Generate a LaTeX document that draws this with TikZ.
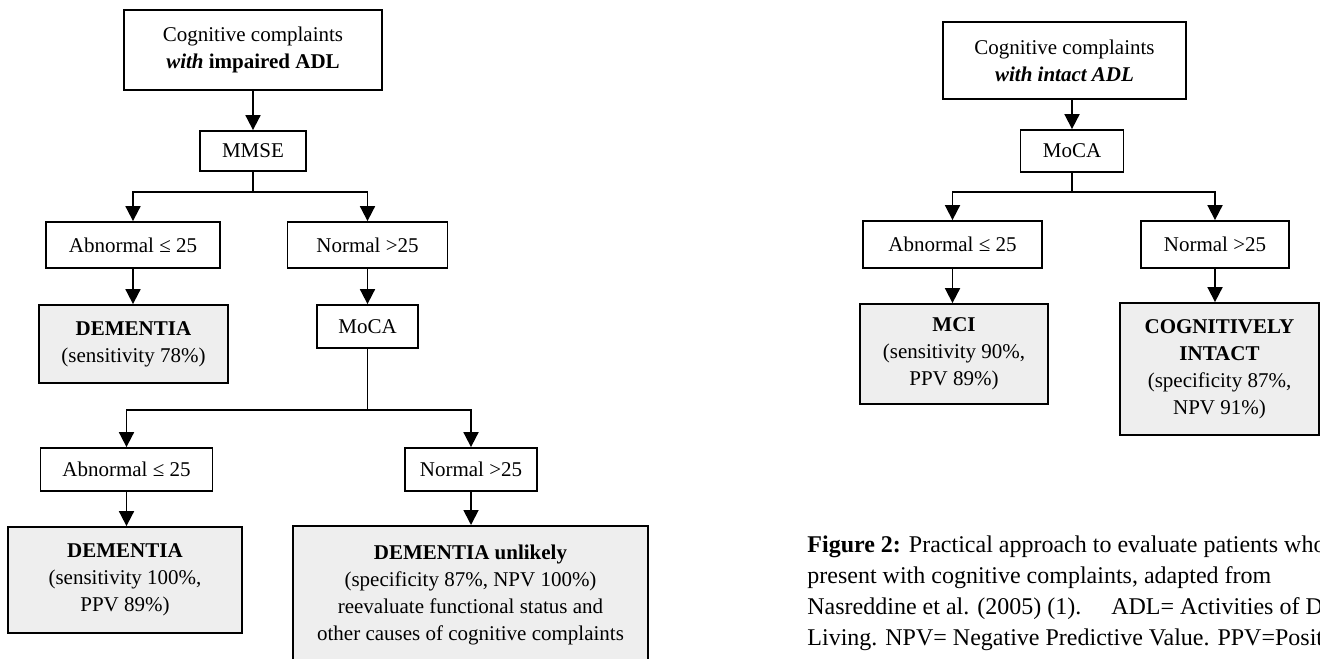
\documentclass[tikz,border=0pt]{standalone}
\usepackage{fontspec}
\setmainfont{Liberation Serif}
\usetikzlibrary{arrows.meta}

\begin{document}
\begin{tikzpicture}[x=0.5pt, y=-0.5pt,
    box/.style={draw, line width=0.9pt, align=center, inner sep=0pt, font=\fontsize{10.5}{13.5}\selectfont},
    res/.style={box, fill=gray!13},
    lnk/.style={line width=0.9pt},
    arr/.style={line width=0.9pt, -{Triangle[width=7.5pt,length=7.5pt]}}]

    \useasboundingbox (0,0) rectangle (1320,658);

    % impaired ADL tree
    \node (cplA) at (253,50) [box, minimum width=129pt, minimum height=40pt] {Cognitive complaints\\\textbf{\textit{with}} \textbf{impaired ADL}};
    \node (mmse) at (253,151) [box, minimum width=53pt, minimum height=20pt] {MMSE};
    \node (abnA) at (133,245) [box, minimum width=87pt, minimum height=23pt] {Abnormal ≤ 25};
    \node (normA) at (367.5,245) [box, minimum width=80pt, minimum height=23pt] {Normal >25};
    \node (demA) at (133.5,344) [res, minimum width=94.5pt, minimum height=39pt] {\textbf{DEMENTIA}\\(sensitivity 78\%)};
    \node (mocaA) at (367.5,326.5) [box, minimum width=50.5pt, minimum height=21.5pt] {MoCA};
    \node (abnB) at (126.5,469.5) [box, minimum width=86pt, minimum height=21.5pt] {Abnormal ≤ 25};
    \node (normB) at (471,469.5) [box, minimum width=66pt, minimum height=21.5pt] {Normal >25};
    \node (demB) at (125,580) [res, minimum width=117pt, minimum height=53pt] {\textbf{DEMENTIA}\\(sensitivity 100\%,\\PPV 89\%)};
    \node (unlB) at (470.5,525) [res, anchor=north, minimum width=177.5pt, inner ysep=9.7pt] {\textbf{DEMENTIA unlikely}\\(specificity 87\%, NPV 100\%)\\reevaluate functional status and\\other causes of cognitive complaints};

    \coordinate (jA) at (253,192);
    \coordinate (jB) at (367.5,410);

    \draw [arr] (cplA) -- (mmse);
    \draw [lnk] (mmse) -- (jA);
    \draw [arr] (jA) -| (abnA);
    \draw [arr] (jA) -| (normA);
    \draw [arr] (abnA) -- (abnA |- demA.north);
    \draw [arr] (normA) -- (mocaA);
    \draw [lnk] (mocaA) -- (jB);
    \draw [arr] (jB) -| (abnB);
    \draw [arr] (jB) -| (normB);
    \draw [arr] (abnB) -- (abnB |- demB.north);
    \draw [arr] (normB) -- (normB |- unlB.north);

    % intact ADL tree
    \node (cplB) at (1064.5,60.5) [box, minimum width=121.5pt, minimum height=38.5pt] {Cognitive complaints\\\textbf{\textit{with intact ADL}}};
    \node (mocaB) at (1072,151) [box, minimum width=51.5pt, minimum height=21pt] {MoCA};
    \node (abnC) at (952.5,244.5) [box, minimum width=89.5pt, minimum height=23.5pt] {Abnormal ≤ 25};
    \node (normC) at (1215,244.5) [box, minimum width=74pt, minimum height=23.5pt] {Normal >25};
    \node (mci) at (954,354) [res, minimum width=94pt, minimum height=50pt] {\textbf{MCI}\\(sensitivity 90\%,\\PPV 89\%)};
    \node (cog) at (1219.5,369) [res, minimum width=99.5pt, minimum height=66pt] {\textbf{COGNITIVELY}\\\textbf{INTACT}\\(specificity 87\%,\\NPV 91\%)};

    \coordinate (jC) at (1072,192);

    \draw [arr] (mocaB |- cplB.south) -- (mocaB);
    \draw [lnk] (mocaB) -- (jC);
    \draw [arr] (jC) -| (abnC);
    \draw [arr] (jC) -| (normC);
    \draw [arr] (abnC) -- (abnC |- mci.north);
    \draw [arr] (normC) -- (normC |- cog.north);

    % caption
    \node (cap) at (807,535) [anchor=north west, inner sep=0pt, align=left, font=\fontsize{12}{15.5}\selectfont] {\textbf{Figure 2:} Practical approach to evaluate patients who\\present with cognitive complaints, adapted from\\Nasreddine et al. (2005) (1).\hspace{11pt} ADL= Activities of D\\Living. NPV= Negative Predictive Value. PPV=Posit};

\end{tikzpicture}
\end{document}
